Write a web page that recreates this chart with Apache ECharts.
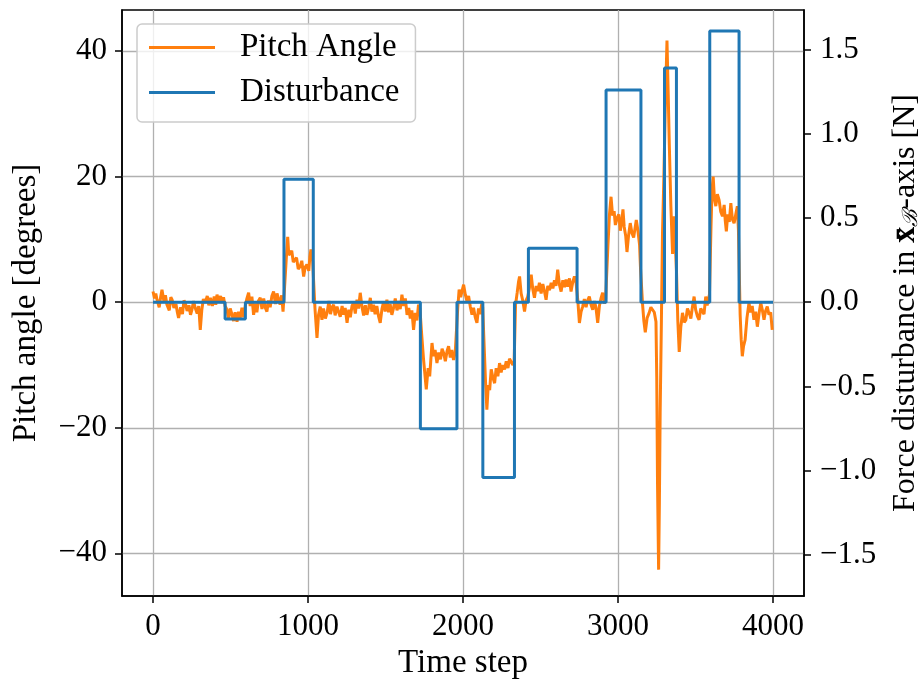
<!DOCTYPE html>
<html><head><meta charset="utf-8">
<script src="https://cdn.jsdelivr.net/npm/echarts@6/dist/echarts.min.js"></script>
<style>html,body{margin:0;padding:0;background:#fff}#c{width:924px;height:679px}</style>
</head><body><div id="c"></div>
<script>
// ---- data: [time step, pitch angle in degrees] ----
const pitchPoints = [
 [0,1.7],[10,0.6],[18,1.4],[26,0.4],[40,-0.8],[50,0.9],[58,2.0],[70,0.2],[80,1.1],[90,-0.4],[105,-1.3],[115,0.8],[123,0.4],
 [135,-0.9],[148,-0.3],[157,-1.6],[165,-2.5],[178,-0.8],[190,-1.9],[200,0.3],[208,-0.1],[220,-1.4],[232,-0.5],[242,-2.0],
 [251,-1.2],[262,0.2],[272,-0.9],[285,-1.8],[295,-0.6],[305,-4.4],[315,-1.2],[325,0.5],[337,-0.1],[350,1.0],[360,-0.5],
 [370,0.7],[383,-0.6],[395,0.9],[405,-0.4],[413,1.2],[425,0.1],[436,1.0],[445,-0.1],[455,0.8],[465,-0.6],[477,-1.2],
 [488,-2.6],[498,-1.0],[510,-2.0],[520,-3.0],[530,-1.6],[542,-3.1],[552,-1.5],[562,-2.6],[574,-0.9],[585,-2.4],[596,-0.5],
 [606,0.6],[617,1.5],[627,-0.6],[638,0.9],[649,-2.0],[660,-0.2],[670,-1.6],[680,0.2],[692,0.7],[703,-1.1],[714,0.6],
 [725,-0.9],[735,-1.5],[745,0.3],[756,-0.8],[767,1.0],[778,1.7],[790,-0.3],[800,1.4],[810,1.2],[820,-0.4],[830,1.1],[839,-1.5],
 [848,2.0],[860,7.0],[869,10.4],[876,7.5],[886,7.3],[895,8.2],[905,6.4],[916,6.2],[926,7.1],[937,5.3],[950,5.7],[960,6.6],
 [972,4.1],[982,5.6],[993,6.0],[1005,5.0],[1012,7.2],[1019,8.4],[1030,6.5],
 [1045,-1.0],[1058,-5.7],[1068,-2.0],[1079,-0.7],[1090,-2.8],[1100,-1.0],[1112,-2.6],[1123,-1.7],[1135,0.2],[1145,-1.9],
 [1155,-0.8],[1165,-0.4],[1175,-2.1],[1187,-0.7],[1198,-1.6],[1208,-2.3],[1220,-0.6],[1230,-2.0],[1240,-0.9],[1252,-3.3],
 [1263,-1.2],[1273,-2.4],[1284,-0.6],[1294,-0.1],[1305,-1.8],[1316,0.4],[1326,-1.0],[1337,1.5],[1348,-0.7],[1359,-2.1],
 [1370,-0.5],[1380,-2.0],[1392,-0.8],[1402,0.7],[1412,-1.5],[1423,-0.4],[1433,-1.9],[1444,-0.6],[1455,-2.2],[1466,-3.3],
 [1477,-1.1],[1488,0.1],[1498,-1.5],[1509,0.4],[1520,-1.6],[1530,-0.3],[1541,-2.0],[1552,-0.9],[1563,0.6],[1574,-1.3],
 [1585,0.2],[1595,-1.1],[1606,1.2],[1617,-0.6],[1628,0.6],[1639,-2.0],[1650,-0.9],[1660,-2.6],[1670,-1.3],[1681,-4.4],
 [1692,-1.7],[1703,-2.9],[1713,-0.4],[1722,-1.0],
 [1733,-5.0],[1745,-9.0],[1763,-13.9],[1775,-10.5],[1785,-11.8],[1800,-6.5],[1810,-8.6],[1820,-7.6],[1832,-9.7],[1843,-8.0],
 [1855,-9.1],[1865,-7.4],[1875,-8.1],[1886,-9.4],[1897,-7.8],[1907,-7.0],[1918,-8.8],[1928,-7.6],[1939,-9.2],[1950,-7.9],[1958,-8.1],
 [1966,-1.0],[1975,2.0],[1985,0.8],[1995,1.9],[2004,2.8],[2015,1.2],[2025,0.2],[2036,1.0],[2047,-0.7],[2058,-2.0],[2068,-0.9],
 [2079,-2.4],[2090,-3.3],[2100,-1.0],[2111,-1.9],[2122,-0.1],[2127,-0.8],
 [2135,-6.0],[2145,-12.5],[2154,-17.1],[2163,-13.2],[2172,-14.0],[2182,-10.7],[2193,-12.0],[2204,-12.9],[2214,-10.5],
 [2225,-11.8],[2236,-9.7],[2246,-11.2],[2257,-10.0],[2268,-10.7],[2279,-9.4],[2290,-10.5],[2300,-9.0],[2311,-9.2],[2322,-10.0],[2330,-9.5],
 [2339,-0.4],[2350,1.6],[2358,3.2],[2365,4.1],[2375,1.4],[2386,0.2],[2397,-1.5],[2407,0.3],[2418,0.9],
 [2428,2.2],[2440,4.4],[2450,2.1],[2461,0.7],[2472,2.6],[2483,1.8],[2493,3.1],[2504,1.4],[2515,2.9],[2526,1.7],[2536,0.4],
 [2547,2.6],[2558,1.9],[2569,3.1],[2580,2.2],[2590,3.5],[2600,2.6],[2611,5.2],[2622,2.8],[2633,1.7],[2644,3.5],[2655,2.4],
 [2665,3.6],[2676,2.5],[2687,3.8],[2697,1.7],[2708,3.2],[2719,4.1],[2730,3.0],
 [2741,0.2],[2751,-3.3],[2762,-1.5],[2772,-0.7],[2783,0.5],[2794,-0.8],[2804,0.3],[2815,0.9],[2826,-0.4],[2837,-1.2],
 [2848,0.2],[2858,-0.9],[2869,-3.3],[2880,-0.6],[2890,0.6],[2901,1.5],[2912,-0.2],[2920,0.5],
 [2935,9.0],[2945,14.0],[2955,16.8],[2965,13.8],[2975,14.5],[2983,12.3],[2994,13.4],[3005,14.0],[3015,11.4],[3024,12.8],
 [3032,14.8],[3040,12.0],[3050,10.5],[3058,8.0],[3068,10.6],[3079,12.6],[3090,11.0],[3101,10.3],[3110,11.8],[3118,13.1],
 [3128,11.5],[3139,9.2],[3146,5.0],
 [3159,-0.5],[3167,-3.0],[3176,-4.8],[3188,-2.5],[3201,-1.7],[3212,-0.8],[3223,-0.5],[3234,-1.6],[3245,-3.1],[3250,-12.0],
 [3255,-28.9],[3262,-42.6],[3267,-32.0],[3272,-17.6],[3280,-3.0],[3287,10.9],[3296,20.0],[3305,30.8],[3316,41.7],[3324,33.0],
 [3331,25.1],[3341,15.4],[3352,7.7],[3358,10.5],[3363,13.7],[3370,9.0],[3377,5.2],
 [3386,-3.0],[3395,-7.9],[3405,-4.0],[3416,-1.7],[3427,-3.2],[3438,-2.8],[3448,-1.0],[3459,-1.7],[3470,-2.6],[3480,-0.8],
 [3491,0.9],[3501,-1.2],[3512,-2.2],[3523,-2.8],[3534,-1.0],[3545,-0.7],[3555,-1.9],[3566,0.9],[3575,-0.5],[3583,0.4],[3590,1.2],
 [3600,12.0],[3607,18.0],[3614,20.0],[3622,16.5],[3631,15.3],[3641,17.2],[3652,16.3],[3663,14.4],[3674,13.7],[3685,15.5],
 [3692,13.0],[3699,11.3],[3708,14.0],[3718,12.8],[3728,15.8],[3738,13.2],[3749,12.6],[3760,14.0],[3770,15.3],[3777,11.5],
 [3788,-2.0],[3795,-6.0],[3802,-8.6],[3810,-7.0],[3820,-6.0],[3832,-2.5],[3845,-0.1],[3855,-1.6],[3866,-0.6],[3877,-2.8],
 [3888,-1.5],[3899,-3.9],[3910,-1.8],[3921,-0.1],[3931,-1.2],[3942,-2.8],[3952,-1.4],[3963,-0.7],[3974,-2.0],[3985,-1.6],[3995,-4.4]
];
const distStarts = [0,465,596,845,1034,1725,1961,2128,2332,2422,2736,2923,3148,3300,3377,3592,3781];
const distValues = [0,-0.1,0,0.73,0,-0.75,0,-1.04,0,0.32,0,1.26,0,1.39,0,1.61,0];
const distEnd = 4000;
const xTicks = [0,1000,2000,3000,4000];
const leftTicks = [-40,-20,0,20,40];
const rightTicks = [-1.5,-1.0,-0.5,0,0.5,1.0,1.5];

// ---- build ----
const distData = distStarts.map((s,i)=>[s,distValues[i]]);
distData.push([distEnd, distValues[distValues.length-1]]);

const F = "'Liberation Serif','DejaVu Serif',serif";
const minus = s => String(s).replace('-', '\u2212');
const chart = echarts.init(document.getElementById('c'), null, {renderer:'canvas'});
chart.setOption({
  animation:false,
  backgroundColor:'#fff',
  grid:{left:122, right:120, top:10, bottom:83, containLabel:false, outerBoundsMode:'none',
        show:true, borderColor:'#000', borderWidth:1.5, backgroundColor:'transparent'},
  legend:{
    left:137, top:24, orient:'vertical', icon:'rect', itemWidth:66, itemHeight:3, itemGap:12,
    padding:[7,16,13,12], backgroundColor:'rgba(255,255,255,0.8)', borderColor:'#cccccc', borderWidth:1.5, borderRadius:5,
    textStyle:{fontFamily:F, fontSize:33, color:'#000', lineHeight:33, padding:[0,0,0,20]},
    data:['Pitch Angle','Disturbance']
  },
  xAxis:{
    type:'value', min:-200, max:4200,
    axisLine:{show:true, onZero:false, lineStyle:{color:'#000', width:1.5}},
    axisTick:{show:true, length:7, customValues:xTicks, lineStyle:{color:'#000', width:1.5}},
    axisLabel:{customValues:xTicks, margin:15, fontFamily:F, fontSize:31, color:'#000', formatter:v=>minus(v)},
    splitLine:{show:true, lineStyle:{color:'#b0b0b0', width:1.3}},
    name:'Time step', nameLocation:'middle', nameGap:49,
    nameTextStyle:{fontFamily:F, fontSize:33, color:'#000'}
  },
  yAxis:[{
    type:'value', min:-46.8, max:46.55, position:'left',
    axisLine:{show:true, onZero:false, lineStyle:{color:'#000', width:1.5}},
    axisTick:{show:true, length:7, customValues:leftTicks, lineStyle:{color:'#000', width:1.5}},
    axisLabel:{customValues:leftTicks, margin:15, fontFamily:F, fontSize:31, color:'#000', formatter:v=>minus(v)},
    splitLine:{show:true, lineStyle:{color:'#b0b0b0', width:1.3}},
    name:'Pitch angle [degrees]', nameLocation:'middle', nameGap:79, nameRotate:90,
    nameTextStyle:{fontFamily:F, fontSize:33, color:'#000'}
  },{
    type:'value', min:-1.743, max:1.734, position:'right',
    axisLine:{show:true, onZero:false, lineStyle:{color:'#000', width:1.5}},
    axisTick:{show:true, length:7, customValues:rightTicks, lineStyle:{color:'#000', width:1.5}},
    axisLabel:{customValues:rightTicks, margin:16, fontFamily:F, fontSize:31, color:'#000', formatter:v=>minus(Number(v).toFixed(1))},
    splitLine:{show:false},
    name:'{n|Force disturbance in }{b|x\u0304}{s|\u212C}{n|-axis [N]}', nameLocation:'middle', nameGap:86, nameRotate:90,
    nameTextStyle:{fontFamily:F, fontSize:32, color:'#000',
      rich:{n:{fontFamily:F, fontSize:32, color:'#000'},
            b:{fontFamily:F, fontSize:32, fontWeight:'bold', color:'#000'},
            s:{fontFamily:F, fontSize:21, color:'#000', fontStyle:'italic', verticalAlign:'bottom', padding:[10,0,0,0]}}}
  }],
  series:[{
    name:'Pitch Angle', type:'line', xAxisIndex:0, yAxisIndex:0, data:pitchPoints,
    showSymbol:false, symbol:'none', color:'#ff7f0e', lineStyle:{color:'#ff7f0e', width:3}, z:2
  },{
    name:'Disturbance', type:'line', xAxisIndex:0, yAxisIndex:1, data:distData, step:'end',
    showSymbol:false, symbol:'none', color:'#1f77b4', lineStyle:{color:'#1f77b4', width:3}, z:3
  }]
});
</script></body></html>
